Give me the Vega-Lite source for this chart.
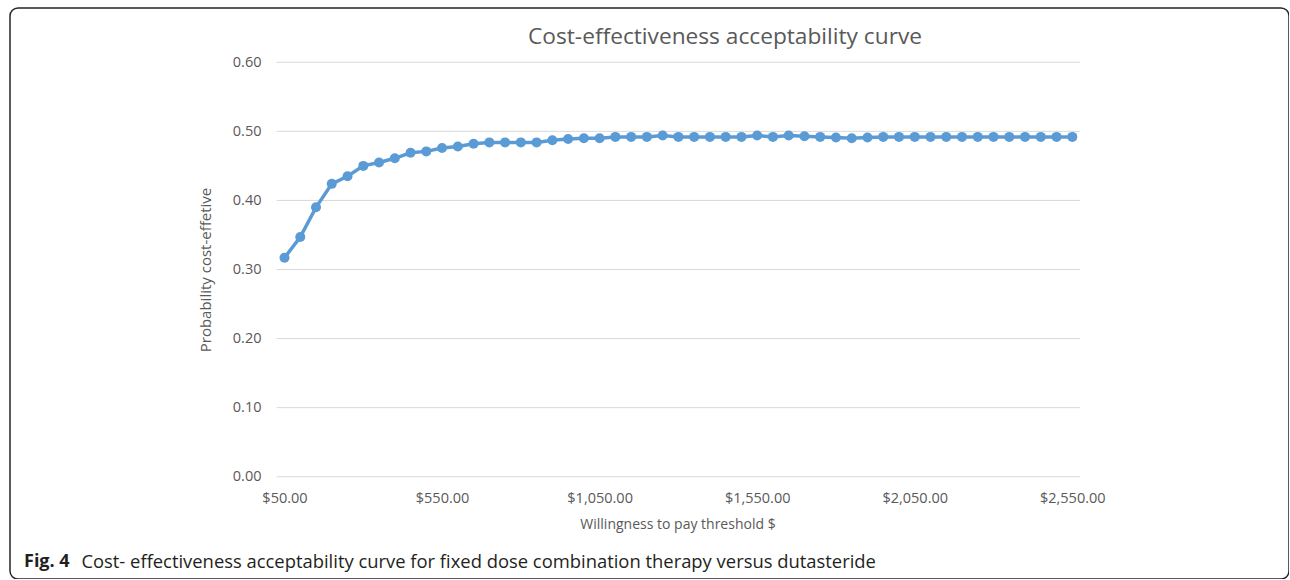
{
  "$schema": "https://vega.github.io/schema/vega-lite/v6.json",
  "background": "white",
  "padding": {"left": 10, "top": 8, "right": 0, "bottom": 0},
  "width": 1279,
  "height": 571,
  "config": {
    "font": "Open Sans",
    "view": {"stroke": "#262626", "strokeWidth": 1.5, "cornerRadius": 8},
    "axisX": {
      "format": "$,.2f",
      "domain": false,
      "ticks": false,
      "tickSize": 0,
      "grid": false,
      "labelPadding": 0,
      "offset": -81,
      "labelBaseline": "middle",
      "labelFont": "Open Sans",
      "labelFontSize": 14.5,
      "labelColor": "#595959",
      "labelFlush": false,
      "labelOverlap": false,
      "titleX": 667.5,
      "titleY": 26,
      "titleAlign": "center",
      "titleBaseline": "middle",
      "titleFont": "Open Sans",
      "titleFontSize": 14,
      "titleFontWeight": "normal",
      "titleColor": "#595959"
    },
    "axisY": {
      "format": ".2f",
      "domain": false,
      "ticks": false,
      "tickSize": 0,
      "grid": false,
      "labelPadding": 0,
      "offset": -251,
      "labelFont": "Open Sans",
      "labelFontSize": 14.5,
      "labelColor": "#595959",
      "labelFlush": false,
      "labelOverlap": false,
      "titleX": -56,
      "titleY": 261.5,
      "titleAngle": -90,
      "titleAlign": "center",
      "titleBaseline": "middle",
      "titleFont": "Open Sans",
      "titleFontSize": 15,
      "titleFontWeight": "normal",
      "titleColor": "#595959"
    }
  },
  "datasets": {
    "curve": [
      {"wtp": 50, "p": 0.317}, {"wtp": 100, "p": 0.347}, {"wtp": 150, "p": 0.390}, {"wtp": 200, "p": 0.424},
      {"wtp": 250, "p": 0.435}, {"wtp": 300, "p": 0.450}, {"wtp": 350, "p": 0.455}, {"wtp": 400, "p": 0.461},
      {"wtp": 450, "p": 0.469}, {"wtp": 500, "p": 0.471}, {"wtp": 550, "p": 0.476}, {"wtp": 600, "p": 0.478},
      {"wtp": 650, "p": 0.482}, {"wtp": 700, "p": 0.484}, {"wtp": 750, "p": 0.484}, {"wtp": 800, "p": 0.484},
      {"wtp": 850, "p": 0.484}, {"wtp": 900, "p": 0.487}, {"wtp": 950, "p": 0.489}, {"wtp": 1000, "p": 0.490},
      {"wtp": 1050, "p": 0.490}, {"wtp": 1100, "p": 0.492}, {"wtp": 1150, "p": 0.492}, {"wtp": 1200, "p": 0.492},
      {"wtp": 1250, "p": 0.494}, {"wtp": 1300, "p": 0.492}, {"wtp": 1350, "p": 0.492}, {"wtp": 1400, "p": 0.492},
      {"wtp": 1450, "p": 0.492}, {"wtp": 1500, "p": 0.492}, {"wtp": 1550, "p": 0.494}, {"wtp": 1600, "p": 0.492},
      {"wtp": 1650, "p": 0.494}, {"wtp": 1700, "p": 0.493}, {"wtp": 1750, "p": 0.492}, {"wtp": 1800, "p": 0.491},
      {"wtp": 1850, "p": 0.490}, {"wtp": 1900, "p": 0.491}, {"wtp": 1950, "p": 0.492}, {"wtp": 2000, "p": 0.492},
      {"wtp": 2050, "p": 0.492}, {"wtp": 2100, "p": 0.492}, {"wtp": 2150, "p": 0.492}, {"wtp": 2200, "p": 0.492},
      {"wtp": 2250, "p": 0.492}, {"wtp": 2300, "p": 0.492}, {"wtp": 2350, "p": 0.492}, {"wtp": 2400, "p": 0.492},
      {"wtp": 2450, "p": 0.492}, {"wtp": 2500, "p": 0.492}, {"wtp": 2550, "p": 0.492}
    ],
    "grid": [
      {"p": 0}, {"p": 0.1}, {"p": 0.2}, {"p": 0.3}, {"p": 0.4}, {"p": 0.5}, {"p": 0.6}
    ]
  },
  "title": {
    "text": "Cost-effectiveness acceptability curve",
    "orient": "top",
    "anchor": "middle",
    "frame": "group",
    "offset": -52,
    "dx": 75.5,
    "baseline": "middle",
    "font": "Open Sans",
    "fontSize": 22.7,
    "fontWeight": "normal",
    "color": "#595959"
  },
  "layer": [
    {
      "data": {"name": "grid"},
      "mark": {"type": "rule", "color": "#d9d9d9", "strokeWidth": 1},
      "encoding": {
        "y": {"field": "p", "type": "quantitative", "scale": {"domain": [-0.1481, 0.6786], "nice": false, "zero": false}, "title": "Probability cost-effetive", "axis": {"values": [0, 0.1, 0.2, 0.3, 0.4, 0.5, 0.6]}},
        "x": {"datum": 25, "type": "quantitative", "scale": {"domain": [-821.1, 3237.7], "nice": false, "zero": false}, "title": "Willingness to pay threshold $", "axis": {"values": [50, 550, 1050, 1550, 2050, 2550]}},
        "x2": {"datum": 2575}
      }
    },
    {
      "data": {"name": "curve"},
      "mark": {
        "type": "line",
        "strokeWidth": 3.5,
        "point": {"filled": true, "size": 100, "opacity": 1}
      },
      "encoding": {
        "x": {"field": "wtp", "type": "quantitative", "scale": {"domain": [-821.1, 3237.7], "nice": false, "zero": false}, "title": "Willingness to pay threshold $", "axis": {"values": [50, 550, 1050, 1550, 2050, 2550]}},
        "y": {"field": "p", "type": "quantitative", "scale": {"domain": [-0.1481, 0.6786], "nice": false, "zero": false}, "title": "Probability cost-effetive", "axis": {"values": [0, 0.1, 0.2, 0.3, 0.4, 0.5, 0.6]}},
        "color": {
          "datum": "Cost- effectiveness acceptability curve for fixed dose combination therapy versus dutasteride",
          "type": "nominal",
          "scale": {"range": ["#5b9bd5"]},
          "legend": {
            "title": "Fig. 4",
            "orient": "none",
            "legendX": 14,
            "legendY": 545,
            "direction": "horizontal",
            "titleOrient": "left",
            "titleAnchor": "middle",
            "titleBaseline": "middle",
            "titleFont": "Open Sans",
            "titleFontSize": 18,
            "titleFontWeight": "bold",
            "titleColor": "#231f20",
            "titlePadding": -7,
            "labelFont": "Open Sans",
            "labelFontSize": 18.4,
            "labelColor": "#231f20",
            "labelLimit": 1200,
            "labelOffset": 0,
            "labelBaseline": "middle",
            "symbolSize": 0,
            "symbolOpacity": 0,
            "symbolStrokeWidth": 0,
            "padding": 0,
            "offset": 0
          }
        }
      }
    }
  ]
}
